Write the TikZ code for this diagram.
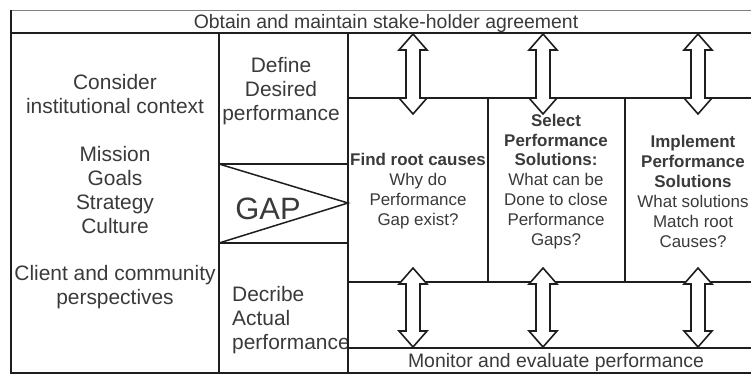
\documentclass[tikz,border=0pt]{standalone}
\usepackage{fontspec}
\setmainfont{Liberation Sans}

\definecolor{ink}{HTML}{3A3A3A}
\definecolor{rule}{HTML}{1E1E1E}

\tikzset{
  frame/.style={draw=rule,line width=1.5bp},
  blockarrow/.style={draw=rule,fill=white,line width=1.6bp,line join=miter},
  band/.style={text=ink,inner sep=0pt,font=\fontsize{19.5}{22}\selectfont},
  side/.style={text=ink,inner sep=0pt,align=center,font=\fontsize{21}{24}\selectfont},
  stage/.style={text=ink,inner sep=0pt,align=center,font=\fontsize{17}{20}\selectfont}
}

% up/down block arrow: x, top tip, bottom tip
\newcommand{\twoway}[3]{%
  \draw [blockarrow] (#1,#2) -- (#1+14,#2+16) -- (#1+7,#2+16) -- (#1+7,#3-16)
    -- (#1+14,#3-16) -- (#1,#3) -- (#1-14,#3-16) -- (#1-7,#3-16)
    -- (#1-7,#2+16) -- (#1-14,#2+16) -- cycle;}

\begin{document}
\begin{tikzpicture}[x=1bp,y=-1bp]
\useasboundingbox [fill=white] (0,0) rectangle (751,375);

\node [band] (agree) at (386,23) {Obtain and maintain stake-holder agreement};
\node [band] (monitor) at (556,362) {Monitor and evaluate performance};

\node [side] (context) at (115,94) {Consider\\institutional context};
\node [side] (mission) at (115,190) {Mission\\Goals\\Strategy\\Culture};
\node [side] (client) at (115,287.5) {Client and community\\perspectives};

\node [side] (desired) at (281,91) {Define\\Desired\\performance};
\node [text=ink,font=\fontsize{31}{31}\selectfont] (gap) at (268,209) {GAP};
\node [side,align=left,anchor=west] (actual) at (232,320) {Decribe\\Actual\\performance};

\node [stage] (causes) at (418,191.5) {\textbf{Find root causes}\\Why do\\Performance\\Gap exist?};
\node [stage] (select) at (556,181.5) {\textbf{Select}\\\textbf{Performance}\\\textbf{Solutions:}\\What can be\\Done to close\\Performance\\Gaps?};
\node [stage] (implement) at (693,191.5) {\textbf{Implement}\\\textbf{Performance}\\\textbf{Solutions}\\What solutions\\Match root\\Causes?};

\draw [draw=gray,line width=0.8bp] (11,10) -- (751,10);
\draw [frame] (11,10) -- (11,373) -- (751,373);
\draw [frame] (11,33) -- (751,33);
\draw [frame] (219,33) -- (219,373);
\draw [frame] (348,33) -- (348,373);
\draw [frame] (219,164) -- (348,164);
\draw [frame] (219,243) -- (348,243);
\draw [frame,line join=miter] (219,164) -- (348,203) -- (219,243);
\draw [frame] (348,98) -- (751,98);
\draw [frame] (348,282) -- (751,282);
\draw [frame] (348,348) -- (751,348);
\draw [frame] (488,98) -- (488,282);
\draw [frame] (625,98) -- (625,282);

\twoway{413}{34}{114}
\twoway{543}{34}{114}
\twoway{698}{34}{114}
\twoway{413}{268}{347}
\twoway{543}{268}{347}
\twoway{698}{268}{347}
\end{tikzpicture}
\end{document}
